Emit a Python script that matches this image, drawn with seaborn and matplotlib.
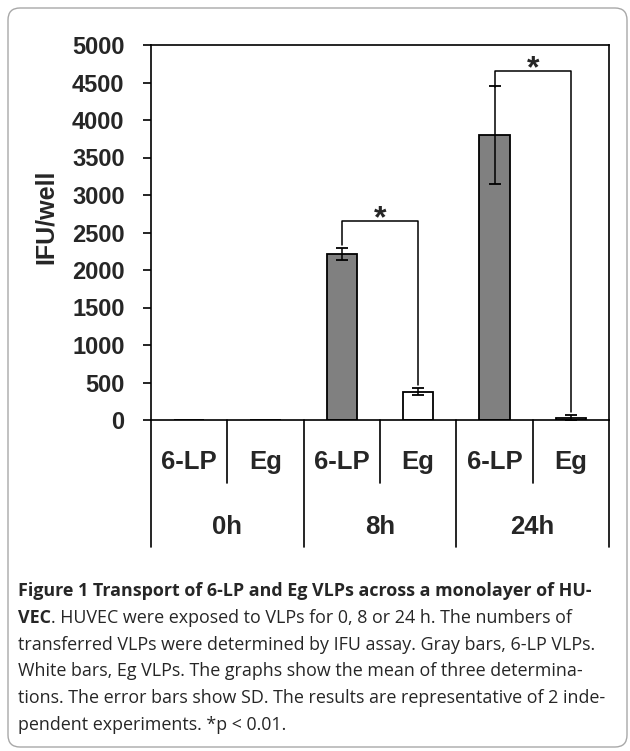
import matplotlib
matplotlib.use('Agg')
import matplotlib.pyplot as plt
import matplotlib.transforms as mtransforms
from matplotlib.patches import FancyBboxPatch
import pandas as pd
import seaborn as sns

# data
times = ["0h", "8h", "24h"]
vlps = ["6-LP", "Eg"]
means = [0, 0, 2215, 380, 3800, 25]
sds = [0, 0, 85, 50, 650, 40]
bar_colors = ["#808080", "#ffffff"] * 3

caption = [
    [("Figure 1 Transport of 6-LP and Eg VLPs across a monolayer of HU-", "bold")],
    [("VEC", "bold"), (". HUVEC were exposed to VLPs for 0, 8 or 24 h. The numbers of", "normal")],
    [("transferred VLPs were determined by IFU assay. Gray bars, 6-LP VLPs.", "normal")],
    [("White bars, Eg VLPs. The graphs show the mean of three determina-", "normal")],
    [("tions. The error bars show SD. The results are representative of 2 inde-", "normal")],
    [("pendent experiments. *p < 0.01.", "normal")],
]

df = pd.DataFrame({
    "bar": [f"{t} {v}" for t in times for v in vlps],
    "time": [t for t in times for _ in vlps],
    "vlp": vlps * len(times),
    "ifu": means,
    "sd": sds,
})

sns.set_theme(style="white")
plt.rcParams['font.family'] = ['Liberation Sans', 'DejaVu Sans']

fig = plt.figure(figsize=(6.3, 7.51), dpi=100)
ax = fig.add_axes([151 / 630, 1 - 420 / 751, 458 / 630, 375 / 751])

sns.barplot(data=df, x="bar", y="ifu", hue="bar", palette=bar_colors, width=0.4,
            saturation=1, edgecolor="black", linewidth=1.3, legend=False, ax=ax)

err = df[df.sd > 0]
ax.errorbar(x=err.index, y=err.ifu, yerr=err.sd, fmt="none", ecolor="black",
            elinewidth=1.1, capsize=4.5, capthick=1.3, zorder=3)

# significance brackets
brackets = [(2, 3, 2660, 2340, 470), (4, 5, 4660, 4444, 110)]
for x1, x2, top, l_end, r_end in brackets:
    ax.plot([x1, x1, x2, x2], [l_end, top, top, r_end], color="black", lw=1.1, zorder=3)
    ax.text((x1 + x2) / 2, top - 85, "*", ha="center", va="baseline",
            fontsize=23, fontweight="bold")

ax.set_xlim(-0.5, 5.5)
ax.set_ylim(0, 5000)
ax.set_yticks(range(0, 5001, 500))
ax.set_xticks([])
ax.set_xlabel("")
ax.set_ylabel("")
ax.tick_params(axis="y", left=True, direction="out", length=6, width=1.2, pad=13,
               labelsize=17, color="black")
for lab in ax.get_yticklabels():
    lab.set_fontweight("bold")
for sp in ax.spines.values():
    sp.set_visible(True)
    sp.set_color("black")
    sp.set_linewidth(1.2)

# category table under the axis
tr = mtransforms.blended_transform_factory(ax.transData, ax.transAxes)
for x in [0.5, 2.5, 4.5]:
    ax.plot([x, x], [0, -0.168], transform=tr, color="black", lw=1.2, clip_on=False)
for x in [-0.5, 1.5, 3.5, 5.5]:
    ax.plot([x, x], [0, -0.339], transform=tr, color="black", lw=1.2, clip_on=False)
for i, v in enumerate(df.vlp):
    ax.text(i, -0.112, v, transform=tr, ha="center", va="center",
            fontsize=18.5, fontweight="bold")
for j, t in enumerate(times):
    ax.text(2 * j + 0.5, -0.284, t, transform=tr, ha="center", va="center",
            fontsize=18.5, fontweight="bold")

fig.text(46 / 630, 1 - 217 / 751, "IFU/well", rotation=90, ha="center", va="center",
         fontsize=18, fontweight="bold")

# caption
cap_font = ["Open Sans", "DejaVu Sans"]
y0 = 1 - 591 / 751
for k, parts in enumerate(caption):
    y = y0 - k * 26.8 / 751
    prev = None
    for txt, wt in parts:
        if prev is None:
            prev = fig.text(18 / 630, y, txt, ha="left", va="center", fontsize=12.9,
                            fontweight=wt, family=cap_font)
        else:
            prev = ax.annotate(txt, xy=(1, 0), xycoords=prev, ha="left", va="bottom",
                               fontsize=12.9, fontweight=wt, family=cap_font,
                               annotation_clip=False)

# rounded frame around the whole figure
frame = FancyBboxPatch((8, 4), 619, 739, boxstyle="round,pad=0,rounding_size=12",
                       transform=mtransforms.IdentityTransform(), fill=False,
                       edgecolor="#a8a8a8", lw=1)
fig.add_artist(frame)

fig.savefig("out.png", dpi=100)
